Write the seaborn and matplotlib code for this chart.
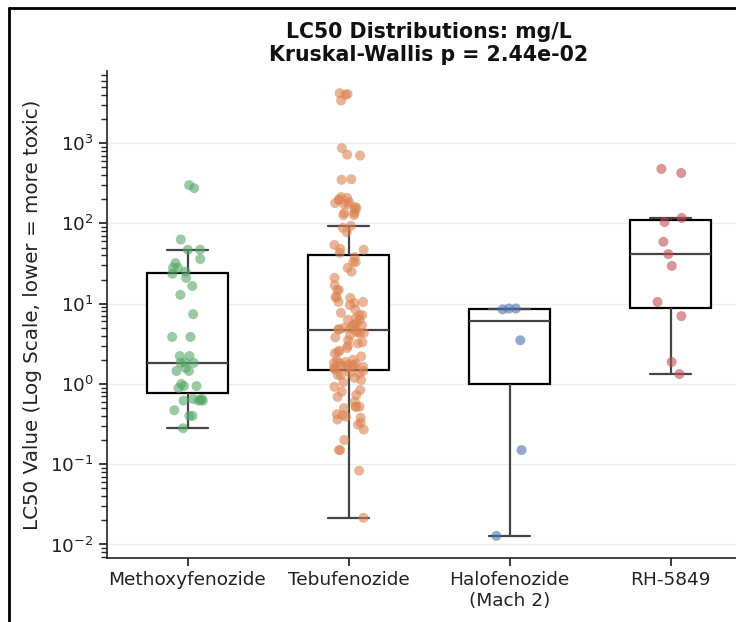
import numpy as np
import pandas as pd
import matplotlib.pyplot as plt
from matplotlib.lines import Line2D
import seaborn as sns

# --- DADOS ---
CATEGORIAS = ['Methoxyfenozide', 'Tebufenozide', 'Halofenozide\n(Mach 2)', 'RH-5849']
CORES = ['#55A868', '#DD8452', '#4C72B0', '#C44E52']

methoxy = [300, 275, 63, 47, 47, 36, 32, 28, 28, 25, 23.6, 21, 16.6, 12.9, 7.4,
           3.85, 3.85, 2.23, 2.23, 1.85, 1.83, 1.83, 1.58, 1.45, 1.45, 0.94, 1.0,
           0.89, 0.94, 0.65, 0.62, 0.65, 0.63, 0.62, 0.62, 0.47, 0.40, 0.40, 0.28]

tebu = [4200, 4000, 4100, 3400, 870, 720, 700, 355, 350, 213, 208, 200, 195, 185,
        179, 174, 174, 160, 155, 147, 135, 135, 127, 127, 93, 88, 78, 54, 48, 47, 43,
        38, 33, 33, 28, 25, 21, 17, 14.8, 14.8, 12.1, 12, 11.8, 10.5, 10.5, 10.2,
        9.6, 8.5, 7.7, 7.2, 7.2, 6.6, 6.3, 6.3, 5.7, 5.4, 5.4, 5.4, 5.0, 4.9, 4.8,
        4.75, 4.6, 4.4, 4.3, 4.3, 4.0, 3.8, 3.5, 3.3, 3.2, 3.0, 2.8, 2.6, 2.5, 2.4,
        2.2, 2.0, 1.95, 1.88, 1.83, 1.83, 1.78, 1.72, 1.72, 1.68, 1.63, 1.63, 1.6,
        1.58, 1.58, 1.5, 1.45, 1.38, 1.35, 1.29, 1.29, 1.19, 1.12, 1.05, 0.92, 0.84,
        0.80, 0.73, 0.69, 0.6, 0.52, 0.52, 0.50, 0.52, 0.42, 0.41, 0.39, 0.38, 0.36,
        0.33, 0.31, 0.27, 0.20, 0.15, 0.15, 0.083, 0.0215]

halo = [8.7, 8.7, 8.5, 3.5, 0.15, 0.0128]

rh5849 = [478, 425, 117, 104, 59, 41.5, 29.5, 10.5, 7.0, 1.88, 1.33]

TITULO = 'LC50 Distributions: mg/L\nKruskal-Wallis p = 2.44e-02'
YLABEL = 'LC50 Value (Log Scale, lower = more toxic)'

df = pd.DataFrame({
    'composto': ([CATEGORIAS[0]] * len(methoxy) + [CATEGORIAS[1]] * len(tebu)
                 + [CATEGORIAS[2]] * len(halo) + [CATEGORIAS[3]] * len(rh5849)),
    'lc50': methoxy + tebu + halo + rh5849,
})

sns.set_theme(style="ticks")
plt.rcParams['font.family'] = 'sans-serif'
plt.rcParams['font.sans-serif'] = ['DejaVu Sans']
np.random.seed(3)

fig = plt.figure(figsize=(7.36, 6.22), dpi=100)
ax = fig.add_axes([107 / 736, 64 / 622, 644 / 736, 487 / 622])

# boxplot em escala linear (estatísticas lineares), depois log
sns.boxplot(data=df, x='composto', y='lc50', order=CATEGORIAS, width=0.5,
            showfliers=False, ax=ax,
            boxprops={'facecolor': 'white', 'edgecolor': 'black', 'linewidth': 1.6},
            whiskerprops={'color': '#444444', 'linewidth': 1.6},
            capprops={'color': '#444444', 'linewidth': 1.6},
            medianprops={'color': '#444444', 'linewidth': 1.6})
ax.set_yscale('log')

sns.stripplot(data=df, x='composto', y='lc50', order=CATEGORIAS, hue='composto',
              hue_order=CATEGORIAS, palette=CORES, jitter=0.1, size=7.2,
              alpha=0.6, linewidth=0, legend=False, ax=ax)

ax.set_xlim(-0.5, 3.5)
ax.set_title(TITULO, fontsize=14.8, fontweight='bold', pad=7, color='#111111')
ax.set_ylabel(YLABEL, fontsize=14.3, color='#222222', labelpad=6)
ax.set_xlabel('')
ax.tick_params(axis='both', labelsize=13.3, colors='#222222')
ax.yaxis.grid(True, which='major', color='#eeeeee', linewidth=1)
ax.set_axisbelow(True)
sns.despine(ax=ax)
for s in ['left', 'bottom']:
    ax.spines[s].set_color('#222222')
    ax.spines[s].set_linewidth(1.2)

# moldura do painel recortado
fig.add_artist(Line2D([9 / 736, 9 / 736], [0, 1 - 8 / 622], color='black', lw=2))
fig.add_artist(Line2D([9 / 736, 1], [1 - 8 / 622, 1 - 8 / 622], color='black', lw=2))

fig.savefig('out.png', dpi=100)
